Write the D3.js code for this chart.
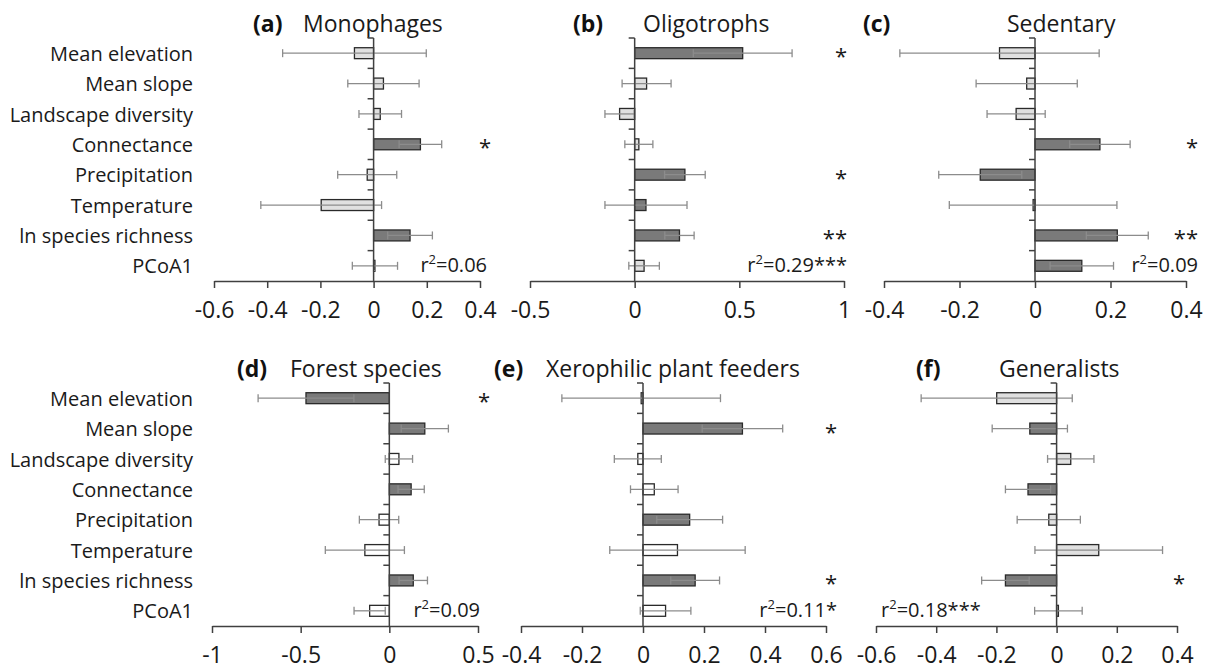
<!DOCTYPE html>
<html>
<head>
<meta charset="utf-8">
<script src="https://cdn.jsdelivr.net/npm/d3@7"></script>
<style>
  body { margin: 0; background: #fff; }
  svg { font-family: "Open Sans", sans-serif; }
</style>
</head>
<body>
<figure id="chart" style="margin:0"></figure>
<script>
// predictors, same order in every panel
const categories = ['Mean elevation', 'Mean slope', 'Landscape diversity', 'Connectance',
  'Precipitation', 'Temperature', 'ln species richness', 'PCoA1'];

// standardised coefficients, error half-widths, shading (d = dark, l = light, w = white), stars
const monophagesCoef = [-0.072, 0.037, 0.025, 0.176, -0.024, -0.197, 0.137, 0.005];
const monophagesErr = [0.27, 0.134, 0.08, 0.08, 0.111, 0.227, 0.084, 0.085];
const monophagesShade = ['l', 'l', 'l', 'd', 'l', 'l', 'd', 'l'];
const monophagesStars = ['', '', '', '*', '', '', '', ''];

const oligotrophsCoef = [0.516, 0.057, -0.072, 0.02, 0.24, 0.054, 0.214, 0.045];
const oligotrophsErr = [0.236, 0.117, 0.07, 0.067, 0.097, 0.196, 0.07, 0.073];
const oligotrophsShade = ['d', 'l', 'l', 'l', 'd', 'd', 'd', 'l'];
const oligotrophsStars = ['*', '', '', '', '*', '', '**', ''];

const sedentaryCoef = [-0.094, -0.022, -0.05, 0.172, -0.145, -0.005, 0.218, 0.124];
const sedentaryErr = [0.264, 0.134, 0.077, 0.08, 0.11, 0.222, 0.082, 0.084];
const sedentaryShade = ['l', 'l', 'l', 'd', 'd', 'l', 'd', 'd'];
const sedentaryStars = ['', '', '', '*', '', '', '**', ''];

const forestCoef = [-0.47, 0.2, 0.054, 0.123, -0.058, -0.138, 0.135, -0.111];
const forestErr = [0.27, 0.133, 0.077, 0.074, 0.111, 0.223, 0.08, 0.088];
const forestShade = ['d', 'd', 'w', 'd', 'w', 'w', 'd', 'w'];
const forestStars = ['*', '', '', '', '', '', '', ''];

const xerophilicCoef = [-0.006, 0.326, -0.017, 0.037, 0.153, 0.113, 0.171, 0.074];
const xerophilicErr = [0.26, 0.132, 0.077, 0.078, 0.108, 0.222, 0.08, 0.083];
const xerophilicShade = ['w', 'd', 'w', 'w', 'd', 'w', 'd', 'w'];
const xerophilicStars = ['', '*', '', '', '', '', '*', ''];

const generalistsCoef = [-0.199, -0.089, 0.047, -0.095, -0.026, 0.14, -0.17, 0.006];
const generalistsErr = [0.251, 0.125, 0.077, 0.075, 0.105, 0.212, 0.079, 0.079];
const generalistsShade = ['l', 'd', 'l', 'd', 'l', 'l', 'd', 'l'];
const generalistsStars = ['', '', '', '', '', '', '*', ''];

// x axis ticks per panel
const ticksA = [-0.6, -0.4, -0.2, 0, 0.2, 0.4];
const ticksB = [-0.5, 0, 0.5, 1];
const ticksC = [-0.4, -0.2, 0, 0.2, 0.4];
const ticksD = [-1, -0.5, 0, 0.5];
const ticksE = [-0.4, -0.2, 0, 0.2, 0.4, 0.6];
const ticksF = [-0.6, -0.4, -0.2, 0, 0.2, 0.4];

const r2Labels = ['0.06', '0.29***', '0.09', '0.09', '0.11*', '0.18***'];

const width = 1213;
const height = 672;
const fills = { d: '#7a7a7a', l: '#e0e0e0', w: '#ffffff' };

const panels = [
  { tag: '(a)', name: 'Monophages', coef: monophagesCoef, err: monophagesErr, shade: monophagesShade, stars: monophagesStars,
    ticks: ticksA, r2: r2Labels[0], x0: 214, x1: 480, top: 38, bottom: 281, tagX: 253, nameX: 303, starX: 491, r2X: 487, r2Anchor: 'end', labels: true },
  { tag: '(b)', name: 'Oligotrophs', coef: oligotrophsCoef, err: oligotrophsErr, shade: oligotrophsShade, stars: oligotrophsStars,
    ticks: ticksB, r2: r2Labels[1], x0: 530, x1: 844, top: 38, bottom: 281, tagX: 573, nameX: 643, starX: 847, r2X: 847, r2Anchor: 'end' },
  { tag: '(c)', name: 'Sedentary', coef: sedentaryCoef, err: sedentaryErr, shade: sedentaryShade, stars: sedentaryStars,
    ticks: ticksC, r2: r2Labels[2], x0: 884, x1: 1186, top: 38, bottom: 281, tagX: 863, nameX: 1007, starX: 1198, r2X: 1198, r2Anchor: 'end' },
  { tag: '(d)', name: 'Forest species', coef: forestCoef, err: forestErr, shade: forestShade, stars: forestStars,
    ticks: ticksD, r2: r2Labels[3], x0: 212, x1: 478, top: 383, bottom: 626, tagX: 237, nameX: 290, starX: 490, r2X: 480, r2Anchor: 'end', labels: true },
  { tag: '(e)', name: 'Xerophilic plant feeders', coef: xerophilicCoef, err: xerophilicErr, shade: xerophilicShade, stars: xerophilicStars,
    ticks: ticksE, r2: r2Labels[4], x0: 521, x1: 826, top: 383, bottom: 626, tagX: 494, nameX: 546, starX: 837, r2X: 837, r2Anchor: 'end' },
  { tag: '(f)', name: 'Generalists', coef: generalistsCoef, err: generalistsErr, shade: generalistsShade, stars: generalistsStars,
    ticks: ticksF, r2: r2Labels[5], x0: 876, x1: 1177, top: 383, bottom: 626, tagX: 916, nameX: 999, starX: 1185, r2X: 881, r2Anchor: 'start' }
];

const svg = d3.select('figure#chart')
  .append('svg')
  .attr('width', width)
  .attr('height', height);

const fmt = v => String(Math.round(v * 10) / 10);

panels.forEach(p => {
  const x = d3.scaleLinear().domain([p.ticks[0], p.ticks[p.ticks.length - 1]]).range([p.x0, p.x1]);
  const y = d3.scaleBand().domain(categories).range([p.top, p.bottom]).paddingInner(0.64).paddingOuter(0.32);
  const step = y.step();
  const g = svg.append('g');
  const rows = categories.map((c, i) => ({ cat: c, v: p.coef[i], e: p.err[i], s: p.shade[i], star: p.stars[i] }));

  // title
  g.append('text')
    .attr('x', p.tagX).attr('y', p.top - 6)
    .style('font-size', '23px').style('font-weight', 'bold').attr('fill', '#111')
    .text(p.tag);
  g.append('text')
    .attr('x', p.nameX).attr('y', p.top - 6)
    .style('font-size', '23px').attr('fill', '#1a1a1a')
    .text(p.name);

  // bars
  g.selectAll('rect.bar')
    .data(rows)
    .enter()
    .append('rect')
    .attr('class', 'bar')
    .attr('x', d => Math.min(x(0), x(d.v)))
    .attr('y', d => y(d.cat))
    .attr('width', d => Math.max(1, Math.abs(x(d.v) - x(0))))
    .attr('height', y.bandwidth())
    .attr('fill', d => fills[d.s])
    .attr('stroke', '#2a2a2a')
    .attr('stroke-width', 1.3);

  // error bars
  const capH = 8;
  const err = g.selectAll('g.err')
    .data(rows)
    .enter()
    .append('g')
    .attr('class', 'err')
    .attr('stroke', '#8c8c8c')
    .attr('stroke-width', 1.3);
  err.append('line')
    .attr('x1', d => x(d.v - d.e)).attr('x2', d => x(d.v + d.e))
    .attr('y1', d => y(d.cat) + y.bandwidth() / 2).attr('y2', d => y(d.cat) + y.bandwidth() / 2);
  [-1, 1].forEach(sgn => {
    err.append('line')
      .attr('x1', d => x(d.v + sgn * d.e)).attr('x2', d => x(d.v + sgn * d.e))
      .attr('y1', d => y(d.cat) + y.bandwidth() / 2 - capH / 2)
      .attr('y2', d => y(d.cat) + y.bandwidth() / 2 + capH / 2);
  });

  // category axis at zero
  const axisColor = '#404040';
  g.append('line')
    .attr('x1', x(0)).attr('x2', x(0)).attr('y1', p.top).attr('y2', p.bottom)
    .attr('stroke', axisColor).attr('stroke-width', 1.5);
  g.selectAll('line.ytick')
    .data(d3.range(categories.length))
    .enter()
    .append('line')
    .attr('class', 'ytick')
    .attr('x1', x(0) - 6).attr('x2', x(0))
    .attr('y1', i => p.top + i * step).attr('y2', i => p.top + i * step)
    .attr('stroke', axisColor).attr('stroke-width', 1.5);

  // value axis at the bottom
  const xAxis = g.append('g')
    .attr('transform', 'translate(0,' + p.bottom + ')')
    .call(d3.axisBottom(x).tickValues(p.ticks).tickFormat(fmt).tickSizeInner(7).tickSizeOuter(0).tickPadding(14));
  xAxis.select('.domain').attr('stroke', axisColor).attr('stroke-width', 1.5);
  xAxis.selectAll('.tick line').attr('stroke', axisColor).attr('stroke-width', 1.5);
  xAxis.selectAll('.tick text')
    .style('font-size', '23px').style('font-family', '"Open Sans", sans-serif').attr('fill', '#1a1a1a');

  // predictor labels
  if (p.labels) {
    g.selectAll('text.cat')
      .data(categories)
      .enter()
      .append('text')
      .attr('class', 'cat')
      .attr('x', 193)
      .attr('y', c => y(c) + y.bandwidth() / 2)
      .attr('dy', '0.38em')
      .attr('text-anchor', 'end')
      .style('font-size', '20px')
      .attr('fill', '#1a1a1a')
      .text(c => c);
  }

  // significance stars
  g.selectAll('text.star')
    .data(rows.filter(d => d.star))
    .enter()
    .append('text')
    .attr('class', 'star')
    .attr('x', p.starX)
    .attr('y', d => y(d.cat) + y.bandwidth() / 2 + 11)
    .attr('text-anchor', 'end')
    .style('font-size', '22px')
    .attr('fill', '#1a1a1a')
    .text(d => d.star);

  // r2 label
  const r2 = g.append('text')
    .attr('x', p.r2X)
    .attr('y', y('PCoA1') + y.bandwidth() / 2 + 6)
    .attr('text-anchor', p.r2Anchor)
    .style('font-size', '20px')
    .attr('fill', '#1a1a1a');
  r2.append('tspan').text('r');
  r2.append('tspan').attr('dy', -8).style('font-size', '13px').text('2');
  r2.append('tspan').attr('dy', 8).text('=' + p.r2);
});
</script>
</body>
</html>
